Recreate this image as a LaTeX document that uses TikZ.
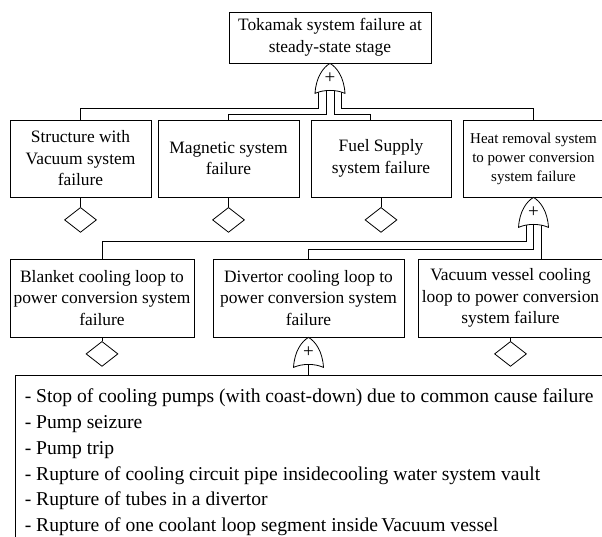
\documentclass[tikz,border=0pt]{standalone}
\usepackage{fontspec}
\setmainfont{Liberation Serif}
\usetikzlibrary{shapes.geometric,calc}
\begin{document}
\begin{tikzpicture}[x=1pt,y=-1pt,
  box/.style={draw, line width=0.8pt, inner sep=0pt, align=center, font=\fontsize{17.4}{21.5}\selectfont},
  dia/.style={draw, diamond, line width=0.8pt, minimum width=32pt, minimum height=25pt, inner sep=0pt},
  conn/.style={line width=0.8pt},
  orgate/.pic={
    \draw[line width=0.8pt, fill=white] (-15,30) .. controls (-14,14) and (-7,4) .. (0,0) .. controls (7,4) and (14,14) .. (15,30) .. controls (6,26) and (-6,26) .. cycle;
    \node[font=\fontsize{19}{19}\selectfont, inner sep=0pt] (-p) at (0,15) {+};
  }]
\useasboundingbox (0,0) rectangle (602,537);
\begin{scope}
\clip (0,0) rectangle (602,537);
% top event
\node[box, minimum width=202pt, minimum height=51pt] (top) at (330,37.5) {Tokamak system failure at\\steady-state stage};
% level 2
\node[box, minimum width=141pt, minimum height=77pt] (s1) at (80.5,158.5) {Structure with\\Vacuum system\\failure};
\node[box, minimum width=141pt, minimum height=77pt] (s2) at (228.5,158.5) {Magnetic system\\failure};
\node[box, minimum width=140pt, minimum height=77pt] (s3) at (381,158.5) {Fuel Supply\\system failure};
\node[box, minimum width=141pt, minimum height=77pt, font=\fontsize{15}{19}\selectfont] (s4) at (533.5,158.5) {Heat removal system\\to power conversion\\system failure};
% level 3
\node[box, minimum width=184pt, minimum height=78pt] (b1) at (102,298) {Blanket cooling loop to\\power conversion system\\failure};
\node[box, minimum width=191pt, minimum height=78pt] (b2) at (308.5,298) {Divertor cooling loop to\\power conversion system\\failure};
\node[box, minimum width=185pt, minimum height=78pt] (b3) at (510.5,298) {Vacuum vessel cooling\\loop to power conversion\\system failure};
% basic events box
\node[draw, line width=0.8pt, inner sep=0pt, minimum width=591pt, minimum height=166pt] (ev) at (310.5,458) {};
\node[anchor=north west, inner sep=0pt, align=left, font=\fontsize{19.6}{25.8}\selectfont] (evtext) at ($(ev.north west)+(10,14)$) {- Stop of cooling pumps (with coast-down) due to common cause failure\\
- Pump seizure\\
- Pump trip\\
- Rupture of cooling circuit pipe insidecooling water system vault\\
- Rupture of tubes in a divertor\\
- Rupture of one coolant loop segment inside\,Vacuum vessel};
% diamonds
\node[dia] (d1) at ($(s1.south)+(0,22.5)$) {};
\node[dia] (d2) at ($(s2.south)+(0,22.5)$) {};
\node[dia] (d3) at ($(s3.south)+(0,22.5)$) {};
\node[dia] (d4) at ($(b1.south)+(0,16.5)$) {};
\node[dia] (d5) at ($(b3.south)+(0,16.5)$) {};
\draw[conn] (s1) -- (d1);
\draw[conn] (s2) -- (d2);
\draw[conn] (s3) -- (d3);
\draw[conn] (b1) -- (d4);
\draw[conn] (b3) -- (d5);
% gates
\coordinate (g1) at (top.south);
\coordinate (g2) at (s4.south);
\coordinate (g3) at (b2.south);
\coordinate (g1a) at ($(g1)+(-11.5,28)$);
\coordinate (g1b) at ($(g1)+(-4,27)$);
\coordinate (g1c) at ($(g1)+(4,27)$);
\coordinate (g1d) at ($(g1)+(11.5,28)$);
\coordinate (g2a) at ($(g2)+(-7.5,27.5)$);
\coordinate (g2b) at ($(g2)+(0,27)$);
\coordinate (g2c) at ($(g2)+(7.5,27.5)$);
\coordinate (g3a) at ($(g3)+(0,27)$);
\coordinate (s3in) at ($(s3.north)+(-11,0)$);
\draw[conn] (g1a) -- ++(0,17) -| (s1.north);
\draw[conn] (g1b) -- ++(0,24) -| (s2.north);
\draw[conn] (g1c) -- ++(0,24) -| (s3in);
\draw[conn] (g1d) -- ++(0,17) -| (s4.north);
\draw[conn] (g2a) -- ++(0,17) -| (b1.north);
\draw[conn] (g2b) -- ++(0,25) -| (b2.north);
\draw[conn] (g2c) -- (g2c |- b3.north);
\draw[conn] (g3a) -- (g3a |- ev.north);
\pic at (g1) {orgate};
\pic at (g2) {orgate};
\pic at (g3) {orgate};
\end{scope}
\end{tikzpicture}
\end{document}
